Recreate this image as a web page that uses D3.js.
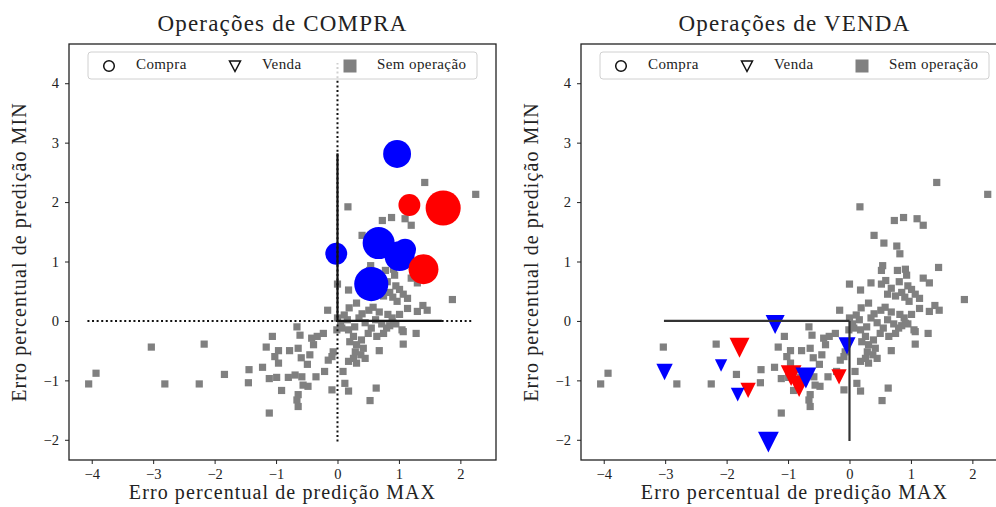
<!DOCTYPE html>
<html>
<head>
<meta charset="utf-8">
<script src="https://cdn.jsdelivr.net/npm/d3@7"></script>
<style>
  body { margin: 0; background: #fff; }
  text { font-family: "Liberation Serif", "DejaVu Serif", serif; fill: #222; }
</style>
</head>
<body>
<div id="chart"></div>
<script>
// pontos sem operacao: [erro MAX, erro MIN]
const semOperacao = [
  [1.42, 2.33], [2.25, 2.13], [0.17, 1.92], [0.73, 1.69], [0.88, 1.74], [1.10, 1.72], [1.20, 1.61],
  [0.40, 1.44], [0.56, 1.31], [0.77, 1.26], [0.82, 1.13], [0.54, 0.93], [0.52, 0.85], [0.78, 0.85],
  [0.91, 0.87], [1.45, 0.90], [0.93, 0.77], [0.00, 0.62], [0.18, 0.52], [0.35, 0.64], [0.52, 0.62],
  [0.59, 0.68], [0.68, 0.55], [0.81, 0.66], [0.95, 0.59], [1.01, 0.53], [1.20, 0.72], [1.30, 0.64],
  [1.07, 0.45], [1.14, 0.38], [1.87, 0.36], [0.85, 0.48], [0.90, 0.40], [0.97, 0.33], [0.75, 0.42],
  [0.62, 0.45], [-0.16, 0.18], [0.19, 0.22], [0.31, 0.30], [0.51, 0.18], [0.58, 0.23], [0.82, 0.11],
  [0.89, 0.05], [1.01, 0.11], [1.14, 0.21], [1.30, 0.16], [1.39, 0.26], [1.46, 0.18], [0.00, 0.05],
  [0.11, 0.10], [0.16, 0.02], [0.35, 0.05], [0.45, -0.03], [0.62, 0.02], [0.72, -0.05], [0.85, -0.08],
  [0.95, -0.05], [1.05, -0.15], [0.28, -0.10], [0.55, -0.12], [0.40, 0.12], [0.68, 0.15], [0.05, -0.05],
  [-4.05, -1.06], [-3.93, -0.88], [-3.03, -0.44], [-2.81, -1.06], [-2.25, -1.06], [-2.17, -0.39],
  [-1.84, -0.90], [-1.44, -0.82], [-1.45, -1.04], [-1.22, -0.78], [-1.11, -1.55], [-1.16, -0.44],
  [-1.06, -0.26], [-0.99, -0.95], [-1.11, -0.97], [-0.91, -1.17], [-0.96, -0.50], [-1.02, -0.60],
  [-0.96, -0.71], [-0.78, -0.50], [-0.64, -0.46], [-0.66, -0.10], [-0.61, -0.24], [-0.59, -0.62],
  [-0.80, -0.95], [-0.69, -0.91], [-0.58, -0.94], [-0.56, -1.08], [-0.64, -1.24], [-0.66, -1.33],
  [-0.64, -1.44], [-0.48, -1.10], [-0.49, -0.73], [-0.45, -0.57], [-0.39, -0.40], [-0.42, -0.29],
  [-0.33, -0.26], [-0.23, -0.21], [-0.35, -0.94], [-0.21, -0.85], [-0.15, -0.66], [-0.09, -0.60],
  [-0.09, -1.16], [-0.07, -0.52], [-0.01, -0.15], [0.09, -0.85], [0.12, -1.05], [0.18, -1.18],
  [0.07, -0.12], [0.18, -0.15], [0.26, -0.26], [0.20, -0.35], [0.31, -0.40], [0.39, -0.32],
  [0.29, -0.52], [0.38, -0.57], [0.42, -0.46], [0.26, -0.63], [0.18, -0.68], [0.31, -0.71],
  [0.45, -0.63], [0.50, -0.21], [0.64, -0.26], [0.75, -0.21], [0.68, -0.50], [0.80, -0.12],
  [0.91, -0.04], [1.07, -0.18], [1.07, -0.39], [1.28, -0.21], [0.63, -1.13], [0.53, -1.34]
];

// operacoes de compra (circulos): [erro MAX, erro MIN, magnitude, resultado]
const compras = [
  [0.97, 2.81, 0.60, "azul"], [-0.02, 1.13, 0.37, "azul"], [1.10, 1.20, 0.37, "azul"],
  [0.67, 1.31, 0.79, "azul"], [1.01, 1.09, 0.69, "azul"], [0.55, 0.62, 0.90, "azul"],
  [1.17, 1.95, 0.37, "vermelho"], [1.72, 1.90, 0.95, "vermelho"], [1.40, 0.87, 0.69, "vermelho"]
];

// operacoes de venda (triangulos)
const vendas = [
  [-1.79, -0.45, 0.34, "vermelho"], [-1.65, -1.17, 0.20, "vermelho"], [-0.95, -0.92, 0.37, "vermelho"],
  [-0.82, -1.10, 0.40, "vermelho"], [-0.17, -0.94, 0.20, "vermelho"],
  [-1.21, -0.06, 0.31, "azul"], [-3.01, -0.86, 0.23, "azul"], [-2.09, -0.75, 0.13, "azul"],
  [-1.82, -1.24, 0.16, "azul"], [-0.04, -0.42, 0.25, "azul"], [-0.71, -0.96, 0.37, "azul"],
  [-1.32, -2.04, 0.37, "azul"]
];

// linhas de referencia: [x1, y1, x2, y2]
const linhasCompraPont = [[0, -2.03, 0, 4.34], [-4.07, 0, 2.21, 0]];
const linhasCompra = [[0, 0, 0, 2.82], [0, 0, 1.70, 0]];
const linhasVenda = [[-3.02, 0, 0, 0], [0, 0, 0, -2.02]];

const xTicks = [-4, -3, -2, -1, 0, 1, 2];
const yTicks = [-2, -1, 0, 1, 2, 3, 4];
const legenda = ["Compra", "Venda", "Sem operação"];

const W = 996, H = 507;
const pw = 427, ph = 416, topo = 44;

const svg = d3.select("#chart").append("svg")
  .attr("width", W).attr("height", H);

const x = d3.scaleLinear().domain([-4.37, 2.58]).range([0, pw]);
const y = d3.scaleLinear().domain([-2.34, 4.66]).range([ph, 0]);
const r = d3.scaleSqrt().domain([0, 1]).range([0, 18]);
const cor = d3.scaleOrdinal().domain(["azul", "vermelho"]).range(["#0000ff", "#ff0000"]);
const fmt = d => d < 0 ? "\u2212" + Math.abs(d) : String(d);

function painel(left, titulo, ops, simbolo, pont, solidas, lineColor) {
  const g = svg.append("g").attr("transform", `translate(${left},${topo})`);

  g.append("text")
    .attr("x", pw / 2).attr("y", -13)
    .attr("text-anchor", "middle")
    .style("font-size", "23px")
    .style("letter-spacing", "1.2px")
    .text(titulo);

  const clipId = "clip" + left;
  g.append("clipPath").attr("id", clipId)
    .append("rect").attr("width", pw).attr("height", ph);
  const plot = g.append("g").attr("clip-path", `url(#${clipId})`);

  plot.selectAll("rect.sem")
    .data(semOperacao)
    .join("rect")
    .attr("class", "sem")
    .attr("x", d => x(d[0]) - 3.6)
    .attr("y", d => y(d[1]) - 3.6)
    .attr("width", 7.2).attr("height", 7.2)
    .attr("fill", "#808080");

  if (simbolo === "circle") {
    plot.selectAll("circle.op")
      .data(ops)
      .join("circle")
      .attr("class", "op")
      .attr("cx", d => x(d[0]))
      .attr("cy", d => y(d[1]))
      .attr("r", d => r(d[2]))
      .attr("fill", d => cor(d[3]));
  } else {
    plot.selectAll("path.op")
      .data(ops)
      .join("path")
      .attr("class", "op")
      .attr("d", d => {
        const s = r(d[2]) * 0.95;
        const cx = x(d[0]), cy = y(d[1]);
        return `M${cx - s},${cy - s}L${cx + s},${cy - s}L${cx},${cy + s}Z`;
      })
      .attr("fill", d => cor(d[3]));
  }

  plot.selectAll("line.pont")
    .data(pont)
    .join("line")
    .attr("class", "pont")
    .attr("x1", d => x(d[0])).attr("y1", d => y(d[1]))
    .attr("x2", d => x(d[2])).attr("y2", d => y(d[3]))
    .attr("stroke", "#111").attr("stroke-width", 2)
    .attr("stroke-dasharray", "2,2.6");

  plot.selectAll("line.sol")
    .data(solidas)
    .join("line")
    .attr("class", "sol")
    .attr("x1", d => x(d[0])).attr("y1", d => y(d[1]))
    .attr("x2", d => x(d[2])).attr("y2", d => y(d[3]))
    .attr("stroke", lineColor).attr("stroke-width", 2.2);

  // eixos
  const ax = g.append("g").attr("transform", `translate(0,${ph})`)
    .call(d3.axisBottom(x).tickValues(xTicks).tickFormat(fmt).tickSize(4).tickPadding(5));
  const ay = g.append("g")
    .call(d3.axisLeft(y).tickValues(yTicks).tickFormat(fmt).tickSize(4).tickPadding(6));
  [ax, ay].forEach(a => {
    a.select(".domain").remove();
    a.selectAll("line").attr("stroke", "#222");
    a.selectAll("text").style("font-size", "14.5px")
      .style("font-family", "'Liberation Serif', serif").attr("fill", "#333");
  });

  g.append("rect")
    .attr("width", pw).attr("height", ph)
    .attr("fill", "none").attr("stroke", "#222").attr("stroke-width", 1.3);

  g.append("text")
    .attr("x", pw / 2).attr("y", ph + 39)
    .attr("text-anchor", "middle")
    .style("font-size", "20px")
    .style("letter-spacing", "1.1px")
    .text("Erro percentual de predição MAX");

  g.append("text")
    .attr("transform", `translate(-43,${ph / 2}) rotate(-90)`)
    .attr("text-anchor", "middle")
    .style("font-size", "20px")
    .style("letter-spacing", "1.1px")
    .text("Erro percentual de predição MIN");

  // legenda
  const lg = g.append("g").attr("transform", "translate(19,8)");
  lg.append("rect")
    .attr("width", 389).attr("height", 27).attr("rx", 3)
    .attr("fill", "#fff").attr("fill-opacity", 0.8)
    .attr("stroke", "#d0d0d0");
  const itens = lg.selectAll("g.item")
    .data(legenda)
    .join("g")
    .attr("class", "item")
    .attr("transform", (d, i) => `translate(${[21, 147, 262][i]},14)`);
  itens.each(function (d, i) {
    const it = d3.select(this);
    if (i === 0) {
      it.append("circle").attr("r", 5.3).attr("fill", "none")
        .attr("stroke", "#111").attr("stroke-width", 1.5);
    } else if (i === 1) {
      it.append("path").attr("d", "M-5.5,-5L5.5,-5L0,5.5Z").attr("fill", "none")
        .attr("stroke", "#111").attr("stroke-width", 1.5);
    } else {
      it.append("rect").attr("x", -6.5).attr("y", -6.5).attr("width", 13).attr("height", 13)
        .attr("fill", "#808080");
    }
    it.append("text")
      .attr("x", 27).attr("y", 3)
      .style("font-size", "15px")
      .style("letter-spacing", "0.4px")
      .text(d);
  });
}

painel(69, "Operações de COMPRA", compras, "circle", linhasCompraPont, linhasCompra, "#111");
painel(581, "Operações de VENDA", vendas, "triangle", [], linhasVenda, "#333");
</script>
</body>
</html>
